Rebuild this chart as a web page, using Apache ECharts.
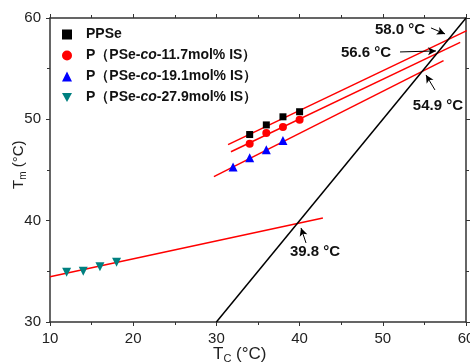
<!DOCTYPE html>
<html><head><meta charset="utf-8">
<script src="https://cdn.jsdelivr.net/npm/echarts@6/dist/echarts.min.js"></script>
<style>html,body{margin:0;padding:0;background:#fff}#c{width:470px;height:362px}</style>
</head><body><div id="c"></div>
<script>
const names = ['PPSe','P（PSe-co-11.7mol% IS）','P（PSe-co-19.1mol% IS）','P（PSe-co-27.9mol% IS）'];
const ppseTc = [34,36,38,40];
const ppseTm = [48.5,49.45,50.25,50.75];
const is117Tc = [34,36,38,40];
const is117Tm = [47.6,48.65,49.25,49.95];
const is191Tc = [32,34,36,38];
const is191Tm = [45.3,46.2,47.0,47.9];
const is279Tc = [12,14,16,18];
const is279Tm = [34.9,35.0,35.45,35.9];
// linear fit segments (start, end)
const fitPPSe = [[31.4,47.5],[60.1,58.75]];
const fit117 = [[31.75,46.8],[59.3,57.6]];
const fit191 = [[29.7,44.35],[57.3,55.8]];
const fit279 = [[10,34.47],[42.8,40.27]];
const diagonal = [[30,30],[60,60]];
// annotations
const crossLabels = ['58.0 °C','56.6 °C','54.9 °C','39.8 °C'];
const crossLabelPos = [[52.07,58.83],[47.98,56.55],[56.63,51.32],[41.85,36.91]];
const arrowFrom = [[55.79,59.02],[52.07,56.65],[56.27,52.9],[40.77,37.8]];
const arrowTo = [[57.48,58.43],[56.39,56.75],[55.19,54.38],[40.17,39.28]];
const xTicks = [10,20,30,40,50,60];
const yTicks = [30,40,50,60];

const zip = (a,b)=>a.map((v,i)=>[v,b[i]]);
const colors = ['#000000','#ff0000','#0000ff','#008080'];
const symbols = ['rect','circle','triangle','path://M0,0 L10,0 L5,9 Z'];
const sizes = [7,8,9,9];
const pts = [zip(ppseTc,ppseTm),zip(is117Tc,is117Tm),zip(is191Tc,is191Tm),zip(is279Tc,is279Tm)];

const chart = echarts.init(document.getElementById('c'));
const axisCommon = {
  axisLine:{show:true,lineStyle:{color:'#333',width:1.5}},
  axisTick:{show:true,inside:false,length:4,lineStyle:{color:'#333',width:1}},
  minorTick:{show:true,splitNumber:2,length:3,lineStyle:{color:'#333',width:1}},
  splitLine:{show:false}
};
function mkX(pos,labels){return Object.assign({},axisCommon,{type:'value',position:pos,min:xTicks[0],max:xTicks[xTicks.length-1],interval:10,
  axisLabel:{show:labels,fontFamily:'Liberation Sans',fontSize:15,color:'#222',margin:9}});}
function mkY(pos,labels){return Object.assign({},axisCommon,{type:'value',position:pos,min:yTicks[0],max:yTicks[yTicks.length-1],interval:10,
  axisLabel:{show:labels,fontFamily:'Liberation Sans',fontSize:15,color:'#222',margin:9}});}

const series = [];
pts.forEach((d,i)=>{
  series.push({name:names[i],type:'scatter',data:d,symbol:symbols[i],symbolSize:sizes[i],
    itemStyle:{color:colors[i],opacity:1},z:5});
});
[fitPPSe,fit117,fit191,fit279].forEach(f=>{
  series.push({type:'line',data:f,symbol:'none',lineStyle:{color:'#ff0000',width:1.5},z:3,silent:true});
});
series.push({type:'line',data:diagonal,symbol:'none',lineStyle:{color:'#000',width:1.5},z:3,silent:true,
  markLine:{silent:true,symbol:['none','arrow'],symbolSize:[6,8],lineStyle:{color:'#000',width:1,type:'solid'},label:{show:false},
    data:arrowFrom.map((p,i)=>[{coord:p},{coord:arrowTo[i]}])},
  markPoint:{silent:true,symbol:'circle',symbolSize:1,itemStyle:{color:'rgba(0,0,0,0)'},
    label:{show:true,position:'inside',color:'#111',fontFamily:'Liberation Sans',fontWeight:'bold',fontSize:15,formatter:p=>p.name},
    data:crossLabels.map((t,i)=>({name:t,coord:crossLabelPos[i]}))}
});

chart.setOption({
  animation:false,
  grid:{left:50,right:4,top:18,bottom:40,outerBoundsMode:'none',containLabel:false},
  xAxis:[mkX('bottom',true),mkX('top',false)],
  yAxis:[mkY('left',true),mkY('right',false)],
  legend:{show:true,orient:'vertical',left:57,top:22,itemWidth:10,itemHeight:10,itemGap:6,
    data:names,
    formatter:n=>n.replace('-co-','-{i|co}-'),
    textStyle:{fontFamily:'Liberation Sans',fontWeight:'bold',fontSize:14,color:'#111',lineHeight:15,padding:[0,0,0,9],
      rich:{i:{fontFamily:'Liberation Sans',fontWeight:'bold',fontStyle:'italic',fontSize:14,color:'#111'}}}},
  graphic:[
    {type:'text',left:213,top:346,style:{text:'{a|T}{s|C}{a| (°C)}',rich:{a:{fontFamily:'Liberation Sans',fontSize:17,fill:'#222'},s:{fontFamily:'Liberation Sans',fontSize:11,fill:'#222',padding:[9,0,0,0]}}}},
    {type:'text',x:10,y:189,rotation:Math.PI/2,style:{text:'{a|T}{s|m}{a| (°C)}',rich:{a:{fontFamily:'Liberation Sans',fontSize:15,fill:'#222'},s:{fontFamily:'Liberation Sans',fontSize:10,fill:'#222',padding:[8,0,0,0]}}}}
  ],
  series:series
});
</script></body></html>
